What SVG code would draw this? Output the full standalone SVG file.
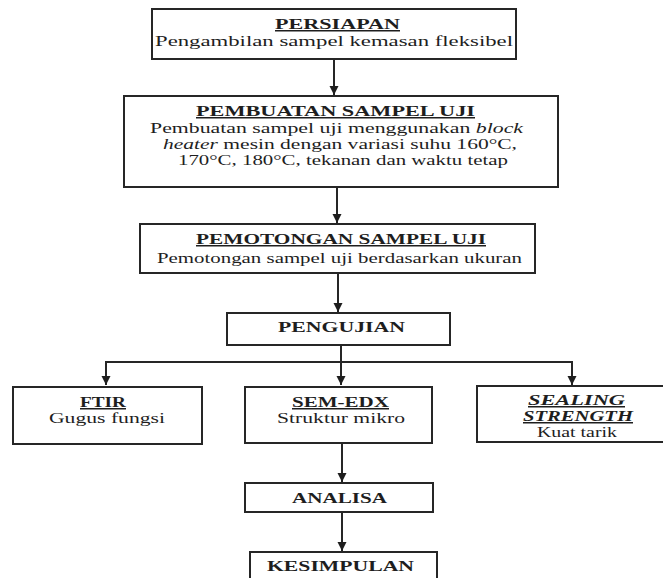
<svg xmlns="http://www.w3.org/2000/svg" width="663" height="578" viewBox="0 0 663 578">
<style>
.box{fill:#fff;stroke:#262626;stroke-width:2}
.c{fill:none;stroke:#262626;stroke-width:2}
text{font-family:'Liberation Serif','DejaVu Serif','Times New Roman',serif;font-size:15px;fill:#1e1e1e}
.t{font-weight:bold;text-decoration:underline}
.b{font-weight:bold}
.ti{font-weight:bold;font-style:italic;text-decoration:underline}
.i{font-style:italic}
</style>
<defs>
<marker id="ah" markerWidth="10" markerHeight="10" refX="9" refY="5" orient="auto" markerUnits="userSpaceOnUse">
<path d="M0,0.5 L9,5 L0,9.5 Z" fill="#1e1e1e"/>
</marker>
</defs>
<rect width="663" height="578" fill="#fff"/>
<g id="connectors">
<path class="c" d="M334 59 V95" marker-end="url(#ah)"/>
<path class="c" d="M337 187 V223" marker-end="url(#ah)"/>
<path class="c" d="M338 273 V312" marker-end="url(#ah)"/>
<path class="c" d="M341 345 V362 M106 362 H572"/>
<path class="c" d="M106 361 V385" marker-end="url(#ah)"/>
<path class="c" d="M341 361 V385" marker-end="url(#ah)"/>
<path class="c" d="M572 361 V385" marker-end="url(#ah)"/>
<path class="c" d="M342 443 V482" marker-end="url(#ah)"/>
<path class="c" d="M342 512 V551" marker-end="url(#ah)"/>
</g>
<g id="persiapan">
<rect class="box" x="152" y="9" width="364" height="50"/>
<text class="t" x="275" y="29" textLength="125" lengthAdjust="spacingAndGlyphs">PERSIAPAN</text>
<text x="155" y="46" textLength="358" lengthAdjust="spacingAndGlyphs">Pengambilan sampel kemasan fleksibel</text>
</g>
<g id="pembuatan">
<rect class="box" x="124" y="96" width="434" height="91"/>
<text class="t" x="196" y="116" textLength="279" lengthAdjust="spacingAndGlyphs">PEMBUATAN SAMPEL UJI</text>
<text x="150" y="133" textLength="373" lengthAdjust="spacingAndGlyphs">Pembuatan sampel uji menggunakan <tspan class="i">block</tspan></text>
<text x="163" y="149" textLength="354" lengthAdjust="spacingAndGlyphs"><tspan class="i">heater</tspan> mesin dengan variasi suhu 160°C,</text>
<text x="178" y="165" textLength="330" lengthAdjust="spacingAndGlyphs">170°C, 180°C, tekanan dan waktu tetap</text>
</g>
<g id="pemotongan">
<rect class="box" x="140" y="224" width="395" height="49"/>
<text class="t" x="196" y="244" textLength="290" lengthAdjust="spacingAndGlyphs">PEMOTONGAN SAMPEL UJI</text>
<text x="157" y="263" textLength="365" lengthAdjust="spacingAndGlyphs">Pemotongan sampel uji berdasarkan ukuran</text>
</g>
<g id="pengujian">
<rect class="box" x="227" y="313" width="223" height="32"/>
<text class="b" x="278" y="332" textLength="127" lengthAdjust="spacingAndGlyphs">PENGUJIAN</text>
</g>
<g id="ftir">
<rect class="box" x="13" y="387" width="189" height="57"/>
<text class="t" x="80" y="407" textLength="46" lengthAdjust="spacingAndGlyphs">FTIR</text>
<text x="49" y="423" textLength="116" lengthAdjust="spacingAndGlyphs">Gugus fungsi</text>
</g>
<g id="sem-edx">
<rect class="box" x="245" y="387" width="187" height="56"/>
<text class="t" x="292" y="407" textLength="97" lengthAdjust="spacingAndGlyphs">SEM-EDX</text>
<text x="277" y="423" textLength="128" lengthAdjust="spacingAndGlyphs">Struktur mikro</text>
</g>
<g id="sealing">
<rect class="box" x="477" y="386" width="200" height="56"/>
<text class="ti" x="528" y="405" textLength="97" lengthAdjust="spacingAndGlyphs">SEALING</text>
<text class="ti" x="523" y="421" textLength="110" lengthAdjust="spacingAndGlyphs">STRENGTH</text>
<text x="537" y="437" textLength="80" lengthAdjust="spacingAndGlyphs">Kuat tarik</text>
</g>
<g id="analisa">
<rect class="box" x="245" y="483" width="188" height="29"/>
<text class="b" x="292" y="503" textLength="95" lengthAdjust="spacingAndGlyphs">ANALISA</text>
</g>
<g id="kesimpulan">
<rect class="box" x="250" y="552" width="187" height="40"/>
<text class="b" x="267" y="571" textLength="147" lengthAdjust="spacingAndGlyphs">KESIMPULAN</text>
</g>
</svg>
